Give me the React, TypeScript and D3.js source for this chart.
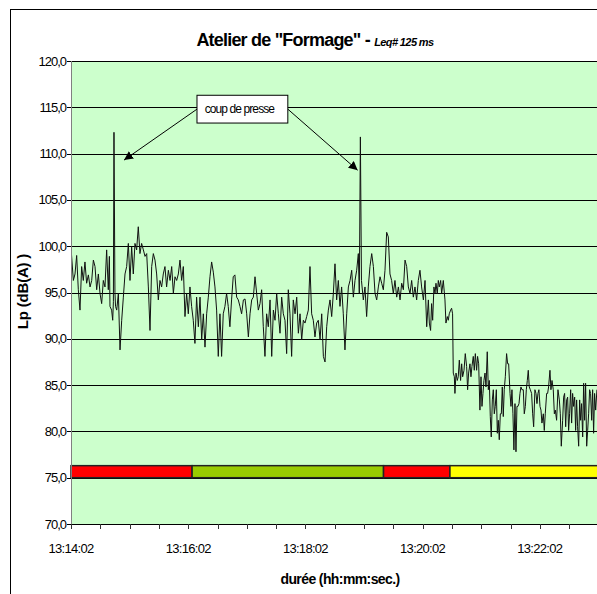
import React from "react";
import * as d3 from "d3";

// levels: [seconds after 13:14:02, Lp dB(A)]
const leq: [number, number][] = [
  [0.3, 99.4], [2.4, 96.3], [4.1, 97.0], [5.8, 99.0], [7.5, 95.3], [9.2, 93.1], [10.9, 97.8], [12.6, 96.3],
  [14.3, 98.3], [16.0, 96.0], [17.8, 96.9], [19.5, 95.6], [21.2, 96.3], [22.9, 98.5], [24.6, 97.8], [26.3, 95.3],
  [28.0, 97.0], [29.7, 94.9], [31.4, 93.8], [33.1, 96.3], [34.8, 95.6], [36.5, 99.6], [38.2, 95.3], [39.3, 98.9],
  [39.9, 93.5], [41.6, 93.1], [42.7, 92.0], [43.4, 94.0], [44.0, 112.3], [45.0, 95.0], [45.6, 93.5], [46.8, 93.1],
  [48.5, 94.9], [50.2, 88.8], [51.9, 92.0], [53.6, 94.5], [55.3, 97.0], [57.0, 97.8], [58.7, 100.3], [60.4, 96.3],
  [62.1, 99.9], [63.8, 97.0], [65.5, 100.3], [67.2, 99.6], [68.9, 102.1], [70.6, 99.2], [72.3, 100.3], [74.1, 99.6],
  [75.8, 98.9], [77.5, 99.2], [79.2, 95.6], [80.9, 90.9], [82.6, 97.8], [84.3, 99.2], [86.0, 98.5], [87.7, 97.0],
  [89.4, 94.2], [91.1, 96.3], [92.8, 95.6], [94.5, 97.0], [96.2, 97.8], [97.9, 95.6], [99.7, 97.4], [101.4, 96.3],
  [103.1, 97.8], [104.8, 94.9], [106.5, 96.7], [108.2, 96.3], [109.9, 97.0], [111.6, 98.5], [113.3, 96.3], [115.0, 97.8],
  [116.7, 92.4], [118.4, 94.9], [120.1, 92.7], [121.8, 95.6], [123.5, 93.5], [125.2, 92.0], [126.9, 89.5], [128.6, 94.5],
  [130.4, 91.3], [132.1, 94.5], [133.8, 89.9], [135.5, 92.7], [137.2, 89.1], [138.9, 92.7], [140.6, 94.5], [142.3, 96.7],
  [144.0, 98.3], [145.7, 97.2], [147.4, 95.6], [149.1, 93.1], [150.8, 88.1], [152.5, 92.7], [154.2, 88.1], [155.9, 92.7],
  [157.6, 93.5], [159.3, 94.9], [161.0, 93.5], [162.7, 91.3], [164.4, 94.2], [166.1, 96.7], [167.8, 96.9], [169.6, 94.5],
  [171.3, 94.2], [173.0, 93.5], [174.7, 92.7], [176.5, 94.2], [178.2, 94.3], [179.9, 92.7], [181.6, 90.2], [183.3, 92.7],
  [185.0, 94.2], [186.7, 94.5], [188.4, 96.7], [190.1, 94.9], [191.8, 93.1], [193.5, 93.8], [195.2, 95.3], [196.9, 91.3],
  [198.6, 88.1], [200.3, 92.7], [202.0, 91.3], [203.8, 94.2], [205.5, 88.1], [207.2, 93.1], [208.9, 92.0], [210.6, 94.9],
  [212.3, 92.7], [214.0, 90.6], [215.7, 94.5], [217.4, 92.7], [219.1, 92.0], [220.8, 88.4], [222.5, 95.3], [224.2, 92.7],
  [225.9, 88.1], [227.6, 94.2], [229.4, 92.7], [231.1, 94.5], [232.8, 90.6], [234.5, 92.7], [236.2, 89.9], [237.9, 92.0],
  [239.6, 91.7], [241.3, 92.4], [243.0, 93.1], [244.7, 97.8], [246.4, 92.7], [248.1, 92.0], [249.8, 90.2], [251.5, 91.7],
  [253.2, 92.0], [255.0, 89.9], [256.7, 92.7], [258.4, 88.1], [260.1, 87.5], [261.8, 91.3], [263.5, 93.1], [265.2, 94.2],
  [266.9, 92.4], [268.6, 94.9], [270.3, 98.1], [272.0, 94.2], [273.7, 96.3], [275.4, 93.5], [277.1, 95.6], [278.8, 92.7],
  [280.5, 88.8], [282.3, 92.7], [284.0, 95.6], [285.7, 96.3], [287.4, 97.4], [289.1, 94.5], [290.8, 96.3], [292.5, 97.4],
  [294.2, 99.2], [295.2, 94.9], [296.3, 111.8], [297.4, 96.3], [299.3, 94.2], [301.0, 95.6], [302.7, 92.4], [304.4, 95.6],
  [306.1, 97.8], [307.9, 99.2], [309.6, 97.8], [311.3, 94.9], [313.0, 94.2], [314.7, 95.6], [316.4, 96.7], [318.1, 96.0],
  [319.8, 95.3], [321.5, 97.4], [323.2, 101.5], [324.9, 101.0], [326.6, 97.0], [328.3, 96.3], [330.0, 94.9], [331.7, 96.3],
  [333.5, 94.5], [335.2, 95.6], [336.9, 94.2], [338.6, 96.0], [340.3, 95.3], [342.0, 98.5], [343.7, 97.8], [345.4, 95.6],
  [347.1, 94.9], [348.8, 96.3], [350.5, 94.5], [352.2, 95.6], [353.9, 94.2], [355.6, 96.3], [357.3, 97.4], [359.0, 95.6],
  [360.8, 94.2], [362.5, 96.3], [364.2, 91.3], [365.9, 94.2], [366.9, 91.7], [368.2, 90.9], [369.2, 93.8], [370.3, 92.0],
  [371.6, 95.6], [372.7, 94.9], [373.7, 96.0], [375.0, 94.9], [376.1, 96.3], [377.1, 95.6], [378.5, 96.3], [379.5, 94.9],
  [381.2, 96.3], [382.9, 94.2], [383.9, 91.7], [385.3, 92.4], [386.3, 92.0], [387.3, 92.7], [388.7, 93.1], [389.7, 93.3],
  [390.7, 92.7], [391.4, 86.3], [392.5, 85.9], [393.1, 84.1], [394.2, 86.3], [395.5, 85.5], [396.5, 85.9], [397.6, 87.7],
  [398.9, 85.5], [400.0, 87.3], [401.0, 85.9], [402.4, 86.6], [403.7, 88.4], [405.1, 87.0], [406.1, 84.5], [407.1, 86.3],
  [408.5, 87.3], [409.5, 85.9], [410.5, 87.0], [411.9, 88.1], [412.9, 86.6], [414.0, 88.4], [415.3, 86.6], [416.3, 88.1],
  [417.4, 87.3], [418.7, 82.3], [419.8, 85.9], [420.8, 82.7], [421.8, 84.1], [422.8, 85.5], [423.9, 86.3], [424.9, 84.8],
  [426.2, 88.6], [427.3, 84.5], [428.3, 85.5], [429.3, 81.6], [430.3, 79.4], [431.4, 83.4], [432.4, 84.5], [433.4, 81.9],
  [434.4, 82.7], [435.5, 84.5], [436.5, 79.8], [437.5, 81.2], [438.5, 79.1], [439.6, 81.9], [440.6, 81.9], [441.6, 84.8],
  [442.6, 81.6], [443.6, 84.5], [444.7, 85.9], [446.0, 88.4], [447.1, 87.3], [448.1, 87.3], [449.5, 84.1], [450.5, 82.7],
  [451.5, 84.5], [452.5, 81.9], [453.5, 78.0], [454.6, 83.0], [455.6, 77.8], [456.6, 82.7], [457.6, 82.7], [458.7, 83.0],
  [459.7, 84.1], [460.7, 84.8], [461.7, 84.5], [463.1, 84.5], [464.1, 81.9], [465.2, 82.7], [466.2, 84.5], [467.2, 85.5],
  [468.2, 86.6], [469.2, 84.8], [470.3, 84.5], [471.6, 84.1], [472.7, 81.9], [473.7, 80.5], [475.0, 84.5], [476.1, 84.1],
  [477.1, 83.0], [478.1, 84.1], [479.1, 84.5], [480.2, 82.7], [481.2, 82.3], [482.2, 80.9], [483.6, 81.9], [484.6, 80.1],
  [485.6, 81.9], [487.0, 84.1], [488.0, 84.1], [489.0, 84.8], [490.4, 86.6], [491.4, 84.5], [492.5, 85.5], [493.8, 84.5],
  [494.9, 81.9], [495.9, 82.3], [497.2, 81.2], [498.6, 84.5], [500.0, 83.4], [501.0, 81.9], [502.0, 78.4], [503.4, 81.2],
  [504.4, 83.7], [505.4, 84.1], [506.5, 80.5], [507.5, 83.4], [508.5, 83.7], [509.5, 80.1], [510.5, 81.9], [511.6, 84.5],
  [512.6, 80.9], [513.6, 84.1], [514.6, 82.7], [515.7, 83.7], [516.7, 80.1], [517.7, 83.4], [518.7, 80.5], [519.8, 78.4],
  [520.8, 83.4], [521.8, 81.2], [522.8, 83.0], [523.9, 79.4], [524.9, 85.2], [525.9, 81.2], [526.9, 85.2], [528.0, 78.4],
  [529.0, 80.1], [530.0, 81.9], [531.0, 84.5], [532.0, 84.1], [533.1, 81.2], [534.1, 84.5], [535.1, 79.8], [536.1, 84.1],
  [537.2, 82.3], [538.5, 84.5],
];

const startTime = new Date(2000, 0, 1, 13, 14, 2);
const spanSeconds = 540;
const tickStepSeconds = 30;
const labelStepSeconds = 120;
const yTicks = [70, 75, 80, 85, 90, 95, 100, 105, 110, 115, 120];

// work phases shown as the coloured band (seconds after start)
const phaseBounds = [0, 124, 320, 388, 540];
const phaseColors = ["#ff0000", "#99cc00", "#ff0000", "#ffff00"];
const phaseBand = [75, 76.3];

// "coup de presse" callout, in data units
const calloutLabel = "coup de presse";
const calloutBox = { t0: 129, t1: 222, top: 116.3, bottom: 113.3 };
const calloutAnchorDb = 114.8;
const arrowTips: [number, number][] = [[54.3, 109.3], [293.5, 108.2]];

const W = 597, H = 594;
const margin = { left: 71, top: 61, bottom: 524 };
const plotRight = 598.4;
const font = "'Liberation Sans', Arial, sans-serif";

const at = (s: number) => new Date(+startTime + s * 1000);

export default function App() {
  const x = d3.scaleTime().domain([startTime, at(spanSeconds)]).range([margin.left, plotRight]);
  const y = d3.scaleLinear().domain([70, 120]).range([margin.bottom, margin.top]);
  const fmtTime = d3.timeFormat("%H:%M:%S");
  const fmtDb = (v: number) => d3.format(".1f")(v).replace(".", ",");

  const xTicks = d3.range(0, spanSeconds + 1, tickStepSeconds);
  const line = d3.line<[number, number]>()
    .x(d => x(at(d[0])))
    .y(d => y(d[1]));

  const bx0 = x(at(calloutBox.t0)), bx1 = x(at(calloutBox.t1));
  const by0 = y(calloutBox.top), by1 = y(calloutBox.bottom);
  const anchorY = y(calloutAnchorDb);

  return (
    <div style={{ position: "absolute", left: 0, top: 0 }}>
      <svg width={W} height={H} style={{ display: "block", fontFamily: font }}>
        <defs>
          <clipPath id="plot">
            <rect x={margin.left} y={margin.top} width={plotRight - margin.left} height={margin.bottom - margin.top} />
          </clipPath>
          <marker id="head" viewBox="0 0 10 10" refX="10" refY="5" markerWidth="9" markerHeight="9" orient="auto" markerUnits="userSpaceOnUse">
            <path d="M0,0 L10,5 L0,10 z" fill="#000" />
          </marker>
        </defs>
        <rect width={W} height={H} fill="#fff" />
        <rect x={10.5} y={9.5} width={W} height={H} fill="none" stroke="#000" />

        <text x={315} y={46} textAnchor="middle" fontWeight="bold" fontSize={18} letterSpacing={-0.8}>
          Atelier de "Formage" -{" "}
          <tspan fontStyle="italic" fontSize={11} letterSpacing={-0.6}>Leq# 125 ms</tspan>
        </text>

        <rect x={margin.left} y={margin.top} width={plotRight - margin.left} height={margin.bottom - margin.top} fill="#ccffcc" />
        {yTicks.map(v => (
          <line key={v} x1={margin.left} x2={plotRight} y1={Math.round(y(v)) + 0.5} y2={Math.round(y(v)) + 0.5} stroke="#000" />
        ))}

        {phaseColors.map((c, i) => {
          const a = x(at(phaseBounds[i])), b = x(at(phaseBounds[i + 1]));
          return (
            <rect key={i} x={a} y={y(phaseBand[1])} width={b - a} height={y(phaseBand[0]) - y(phaseBand[1])}
              fill={c} stroke="#222" strokeWidth={1.5} />
          );
        })}

        <path d={line(leq) || ""} fill="none" stroke="#111" strokeWidth={1} clipPath="url(#plot)" />

        {arrowTips.map((tip, i) => (
          <line key={i} x1={i === 0 ? bx0 : bx1} y1={anchorY} x2={x(at(tip[0]))} y2={y(tip[1])}
            stroke="#000" strokeWidth={1} markerEnd="url(#head)" />
        ))}
        <rect x={bx0} y={by0} width={bx1 - bx0} height={by1 - by0} fill="#fff" stroke="#000" />
        <text x={(bx0 + bx1) / 2 - 3} y={(by0 + by1) / 2 + 4} textAnchor="middle" fontSize={12} letterSpacing={-0.9}>
          {calloutLabel}
        </text>

        <line x1={margin.left + 0.5} x2={margin.left + 0.5} y1={margin.top} y2={margin.bottom + 5} stroke="#808080" />
        <line x1={margin.left} x2={plotRight} y1={margin.bottom + 0.5} y2={margin.bottom + 0.5} stroke="#000" />
        {yTicks.map(v => (
          <g key={v}>
            <line x1={margin.left - 4} x2={margin.left} y1={Math.round(y(v)) + 0.5} y2={Math.round(y(v)) + 0.5} stroke="#000" />
            <text x={margin.left - 5} y={y(v) + 4.5} textAnchor="end" fontSize={13} letterSpacing={-1}>{fmtDb(v)}</text>
          </g>
        ))}
        {xTicks.map(s => (
          <g key={s}>
            <line x1={Math.round(x(at(s))) + 0.5} x2={Math.round(x(at(s))) + 0.5} y1={margin.bottom} y2={margin.bottom + 5} stroke="#333" />
            {s % labelStepSeconds === 0 && (
              <text x={x(at(s))} y={553} textAnchor="middle" fontSize={13} letterSpacing={-0.7}>{fmtTime(at(s))}</text>
            )}
          </g>
        ))}

        <text transform={`translate(28,${(margin.top + margin.bottom) / 2 - 1}) rotate(-90)`} textAnchor="middle"
          fontWeight="bold" fontSize={15} letterSpacing={-0.2}>
          Lp (dB(A) )
        </text>
        <text x={340} y={584} textAnchor="middle" fontWeight="bold" fontSize={14} letterSpacing={-0.6}>
          durée (hh:mm:sec.)
        </text>
      </svg>
    </div>
  );
}
